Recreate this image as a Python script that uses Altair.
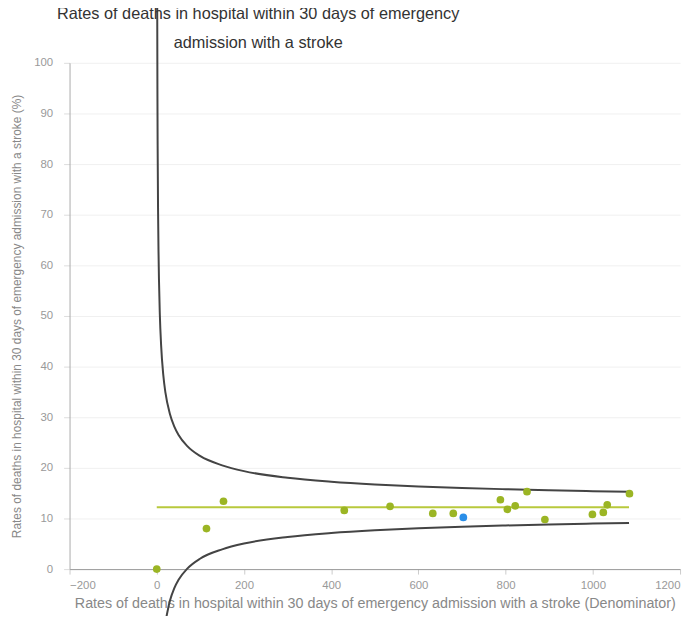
import altair as alt
import pandas as pd

# Hospital points (denominator, rate %)
denominators = [0, 114, 153, 430, 535, 633, 680, 788, 804, 822, 849, 890, 999, 1024, 1033, 1084]
rates = [0, 8.0, 13.4, 11.6, 12.4, 11.0, 11.0, 13.7, 11.8, 12.5, 15.3, 9.8, 10.8, 11.2, 12.7, 14.9]
highlight_denominator = [703]
highlight_rate = [10.2]

# Average line
mean_x = [0, 1083]
mean_y = [12.2, 12.2]

# Funnel limits
limit_n = [1, 1.5, 2, 3, 4, 5, 7, 10, 15, 20, 30, 40, 50, 70, 100, 150, 200, 300,
           400, 500, 600, 700, 800, 900, 1000, 1083]
upper = [113.3, 94.8, 83.7, 70.6, 62.8, 57.4, 50.4, 44.2, 38.3, 34.8, 30.7, 28.2, 26.5,
         24.3, 22.3, 20.5, 19.35, 18.04, 17.26, 16.72, 16.33, 16.02, 15.78, 15.57, 15.40, 15.27]
lower_n = [20, 30, 40, 50, 70, 100, 150, 200, 300, 400, 500, 600, 700, 800, 900, 1000, 1083]
lower = [-10.4, -6.3, -3.8, -2.1, 0.1, 2.1, 3.9, 5.05, 6.36, 7.14, 7.68, 8.07, 8.38, 8.62,
         8.83, 9.0, 9.13]

title_lines = ["Rates of deaths in hospital within 30 days of emergency",
               "admission with a stroke"]
x_title = "Rates of deaths in hospital within 30 days of emergency admission with a stroke (Denominator)"
y_title = "Rates of deaths in hospital within 30 days of emergency admission with a stroke (%)"

pts = pd.DataFrame({"n": denominators, "rate": rates})
hl = pd.DataFrame({"n": highlight_denominator, "rate": highlight_rate})
mean_df = pd.DataFrame({"n": mean_x, "rate": mean_y})
lim = pd.concat([
    pd.DataFrame({"n": limit_n, "rate": upper, "limit": "upper"}),
    pd.DataFrame({"n": lower_n, "rate": lower, "limit": "lower"}),
])

xs = alt.Scale(domain=[-200, 1200], nice=False, zero=False)
ys = alt.Scale(domain=[0, 100], nice=False, zero=False)

x_enc = alt.X("n:Q", scale=xs, title=x_title,
              axis=alt.Axis(values=list(range(-200, 1201, 200)), grid=False, format="d",
                            labelFontSize=11.5, labelColor="#999", titleFontSize=14.4,
                            titleColor="#888", titleFontWeight="normal",
                            domainColor="#999", tickColor="#ccc", tickSize=5,
                            labelPadding=6, titlePadding=5, titleFont="Liberation Sans",
                            labelFont="Liberation Sans"))
y_enc = alt.Y("rate:Q", scale=ys, title=y_title,
              axis=alt.Axis(values=list(range(0, 101, 10)), grid=True, gridColor="#f0f0f0",
                            labelFontSize=11.5, labelColor="#999", titleFontSize=12,
                            titleColor="#888", titleFontWeight="normal",
                            domainColor="#aaa", tickColor="#ddd", tickSize=6,
                            labelPadding=11, titlePadding=10, titleFont="Liberation Sans",
                            labelFont="Liberation Sans"))

limits = alt.Chart(lim).mark_line(color="#444", strokeWidth=2, interpolate="monotone").encode(
    x=x_enc, y=y_enc, detail="limit:N")
mean_line = alt.Chart(mean_df).mark_line(color="#b8c93c", strokeWidth=2).encode(x="n:Q", y="rate:Q")
points = alt.Chart(pts).mark_circle(color="#9bb524", opacity=1, size=60).encode(x="n:Q", y="rate:Q")
hpoint = alt.Chart(hl).mark_circle(color="#2a8ee8", opacity=1, size=60).encode(x="n:Q", y="rate:Q")

title1 = alt.Chart(pd.DataFrame({"t": [title_lines[0]]})).mark_text(
    fontSize=16.4, font="Liberation Sans", color="#333", align="center", baseline="middle"
).encode(text="t:N", x=alt.value(190), y=alt.value(-49))
title2 = alt.Chart(pd.DataFrame({"t": [title_lines[1]]})).mark_text(
    fontSize=16.4, font="Liberation Sans", color="#333", align="center", baseline="middle"
).encode(text="t:N", x=alt.value(190), y=alt.value(-20))

chart = alt.layer(mean_line, limits, points, hpoint, title1, title2).properties(
    width=615, height=510,
    autosize=alt.AutoSizeParams(type="none"),
    padding={"left": 62, "top": 53, "right": 8, "bottom": 45},
).configure_view(stroke=None)

chart.save("out.html", embed_options={"renderer": "svg", "actions": False})
